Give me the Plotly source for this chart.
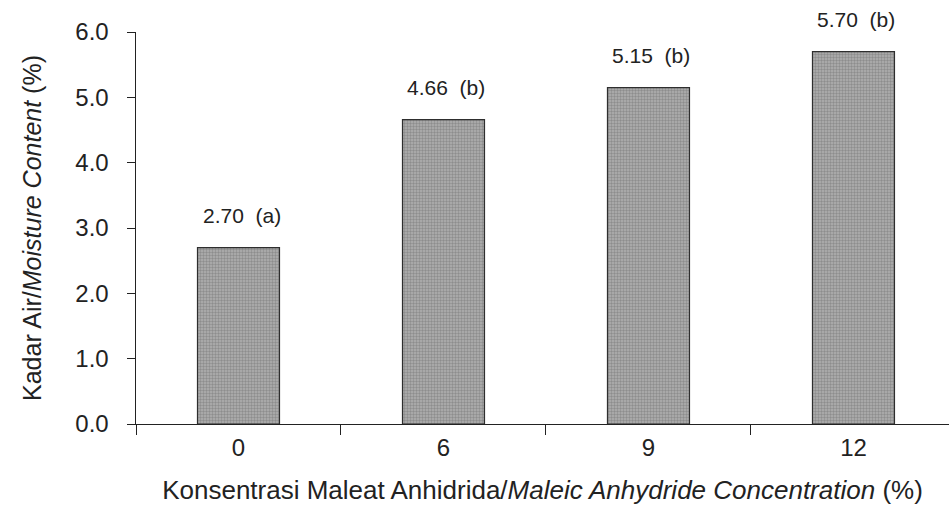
import plotly.graph_objects as go

# Moisture content by maleic anhydride concentration
concentrations = ["0", "6", "9", "12"]
moisture = [2.70, 4.66, 5.15, 5.70]
groups = ["a", "b", "b", "b"]
y_ticks = [0, 1, 2, 3, 4, 5, 6]
y_tick_text = ["0.0", "1.0", "2.0", "3.0", "4.0", "5.0", "6.0"]

FONT = "Liberation Sans, Arial, sans-serif"
INK = "#222"
pos = list(range(len(concentrations)))

fig = go.Figure()
fig.add_trace(go.Bar(
    x=pos,
    y=moisture,
    width=0.4,
    marker=dict(
        color="#9c9c9c",
        line=dict(color="#2e2e2e", width=1.2),
        pattern=dict(shape=".", fgcolor="#6a6a6a", bgcolor="#b0b0b0", size=3, solidity=0.5),
    ),
    showlegend=False,
))

for p, v, g in zip(pos, moisture, groups):
    fig.add_annotation(
        x=p, y=v, text=f"{v:.2f}\u00a0\u00a0({g})", showarrow=False,
        yanchor="bottom", yshift=19, xshift=3,
        font=dict(family=FONT, size=21, color=INK),
    )

fig.update_layout(
    width=949, height=507,
    margin=dict(l=136, r=0, t=32, b=83),
    paper_bgcolor="white", plot_bgcolor="white",
    font=dict(family=FONT, color=INK),
    xaxis=dict(
        range=[-0.5, 3.466],
        tickvals=pos, ticktext=concentrations,
        ticks="",
        ticklabelstandoff=2,
        minor=dict(tick0=-0.5, dtick=1, ticks="outside", ticklen=10,
                   tickcolor=INK, tickwidth=1.2, showgrid=False),
        showline=True, linecolor=INK, linewidth=1.4,
        showgrid=False, zeroline=False,
        tickfont=dict(size=24, color=INK),
        title=dict(
            text="Konsentrasi Maleat Anhidrida/<i>Maleic Anhydride Concentration</i> (%)",
            font=dict(size=26, color=INK),
            standoff=20,
        ),
    ),
    yaxis=dict(
        range=[0, 6],
        tickvals=y_ticks, ticktext=[t + "\u00a0\u00a0" for t in y_tick_text],
        ticks="outside", ticklen=8, tickcolor=INK, tickwidth=1.2,
        showline=True, linecolor=INK, linewidth=1.4,
        showgrid=False, zeroline=False,
        tickfont=dict(size=24, color=INK),
        title=dict(
            text="Kadar Air/<i>Moisture Content</i> (%)",
            font=dict(size=25, color=INK),
            standoff=26,
        ),
    ),
)

fig.write_html("out.html")
